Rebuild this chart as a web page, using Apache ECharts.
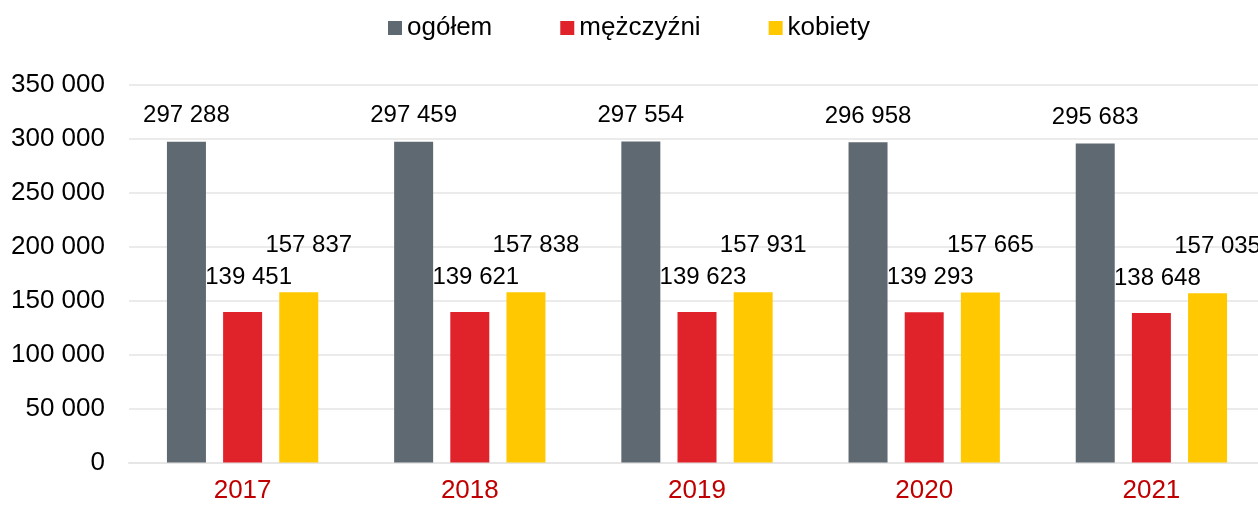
<!DOCTYPE html>
<html>
<head>
<meta charset="utf-8">
<script src="https://cdn.jsdelivr.net/npm/echarts@6/dist/echarts.min.js"></script>
<style>
html,body{margin:0;padding:0;background:#fff;}
#chart{width:1258px;height:505px;}
</style>
</head>
<body>
<div id="chart"></div>
<script>
const categories = ['2017', '2018', '2019', '2020', '2021'];
const seriesNames = ['ogółem', 'mężczyźni', 'kobiety'];
const ogolem = [297288, 297459, 297554, 296958, 295683];
const mezczyzni = [139451, 139621, 139623, 139293, 138648];
const kobiety = [157837, 157838, 157931, 157665, 157035];
const yTicks = [0, 50000, 100000, 150000, 200000, 250000, 300000, 350000];

const colors = ['#5F6971', '#E0232B', '#FFC800'];
const FONT = '"Liberation Sans", Arial, sans-serif';

function fmt(v) {
  return String(v).replace(/\B(?=(\d{3})+(?!\d))/g, ' ');
}

const chart = echarts.init(document.getElementById('chart'), null, {renderer: 'canvas'});

const labelBase = {
  show: true,
  position: 'top',
  color: '#000',
  fontFamily: FONT,
  fontSize: 24,
  formatter: p => fmt(p.value)
};

chart.setOption({
  animation: false,
  backgroundColor: '#fff',
  textStyle: {fontFamily: FONT},
  legend: {
    top: 10,
    left: 'center',
    itemWidth: 14,
    itemHeight: 14,
    itemGap: 68,
    icon: 'rect',
    textStyle: {fontFamily: FONT, fontSize: 26, color: '#000'},
    data: seriesNames
  },
  grid: {
    left: 129,
    width: 1136,
    top: 85,
    bottom: 42.5,
    containLabel: false,
    outerBoundsMode: 'none'
  },
  xAxis: {
    type: 'category',
    data: categories,
    axisLine: {show: true, lineStyle: {color: '#E6E6E6', width: 2}},
    axisTick: {show: false},
    axisLabel: {color: '#C00000', fontFamily: FONT, fontSize: 26, margin: 15}
  },
  yAxis: {
    type: 'value',
    min: 0,
    max: 350000,
    interval: 50000,
    axisLine: {show: false},
    axisTick: {show: false},
    splitLine: {lineStyle: {color: '#EBEBEB', width: 2}},
    axisLabel: {
      color: '#000', fontFamily: FONT, fontSize: 26, margin: 24,
      formatter: v => yTicks.includes(v) ? fmt(v) : ''
    }
  },
  series: [
    {
      name: seriesNames[0], type: 'bar', data: ogolem,
      barWidth: 39, barGap: '44%',
      itemStyle: {color: colors[0]},
      label: Object.assign({}, labelBase, {distance: 14, offset: [0, 0]})
    },
    {
      name: seriesNames[1], type: 'bar', data: mezczyzni,
      barWidth: 39, barGap: '44%',
      itemStyle: {color: colors[1]},
      label: Object.assign({}, labelBase, {distance: 23, offset: [6, 0]})
    },
    {
      name: seriesNames[2], type: 'bar', data: kobiety,
      barWidth: 39, barGap: '44%',
      itemStyle: {color: colors[2]},
      label: Object.assign({}, labelBase, {distance: 35, offset: [10, 0]})
    }
  ]
});
</script>
</body>
</html>
